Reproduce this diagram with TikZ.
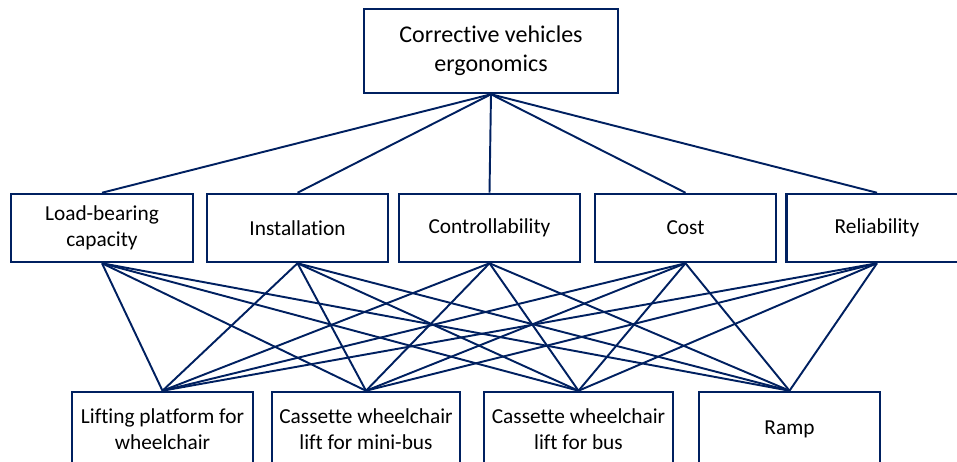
\documentclass[tikz,border=0pt]{standalone}
\usepackage{fontspec}
\setmainfont{Carlito}[Ligatures=CommonOff]
\definecolor{navy}{RGB}{0,32,96}
\newdimen\px \px=0.75pt
\tikzset{
	box/.style={draw=navy, line width=1.9pt, fill=white, inner sep=2pt,
		align=center, minimum height=68\px, font=\fontsize{16}{19.5}\selectfont},
	link/.style={draw=navy, line width=1.45pt}
}

\begin{document}
\begin{tikzpicture}[x=0.75pt, y=-0.75pt]  % one unit = one pixel of the reference

\useasboundingbox (0,0) rectangle (957,461);
\clip (0,0) rectangle (957,461);

% goal
\node[box, minimum width=254\px, minimum height=84\px, font=\fontsize{18}{22}\selectfont]
	(goal) at (491,51) {Corrective vehicles\\ergonomics};

% criteria
\node[box, minimum width=182\px] (load) at (102,228) {Load-bearing\\capacity};
\node[box, minimum width=181\px] (install) at (297.5,228) {Installation};
\node[box, minimum width=181\px] (control) at (489.5,228) {Controllability};
\node[box, minimum width=181\px] (cost) at (685.5,228) {Cost};
\node[box, minimum width=181\px] (reliab) at (877,228) {Reliability};

% alternatives
\node[box, minimum width=181\px, minimum height=74\px] (lifting) at (162.5,429) {Lifting platform for\\wheelchair};
\node[box, minimum width=188\px, minimum height=74\px] (minibus) at (366,429) {Cassette wheelchair\\lift for mini-bus};
\node[box, minimum width=189\px, minimum height=74\px] (bus) at (578.5,429) {Cassette wheelchair\\lift for bus};
\node[box, minimum width=181\px, minimum height=74\px] (ramp) at (789.5,429) {Ramp};

% goal to criteria
\foreach \c in {load,install,control,cost,reliab}
	\draw[link] (goal.south) -- (\c.north);

% criteria to alternatives
\foreach \c in {load,install,control,cost,reliab}
	\foreach \a in {lifting,minibus,bus,ramp}
		\draw[link] (\c.south) -- (\a.north);

\end{tikzpicture}
\end{document}
